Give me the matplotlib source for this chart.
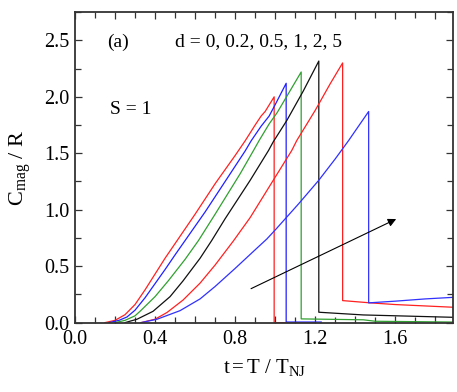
import matplotlib
matplotlib.use('Agg')
import matplotlib.pyplot as plt
from matplotlib.ticker import MultipleLocator, FuncFormatter

plt.rcParams['font.family'] = ['Liberation Serif', 'DejaVu Serif']
plt.rcParams['mathtext.fontset'] = 'stix'

# d = 0 (red)
t_d0 = [0.15, 0.2, 0.25, 0.3, 0.35, 0.4, 0.45, 0.5, 0.55, 0.6, 0.7, 0.8, 0.85, 0.9, 0.93, 0.95, 0.995, 0.995, 1.2]
c_d0 = [0.0, 0.02, 0.07, 0.16, 0.29, 0.43, 0.57, 0.70, 0.83, 0.96, 1.23, 1.48, 1.61, 1.75, 1.83, 1.87, 2.0, 0.0, 0.0]
# d = 0.2 (blue)
t_d02 = [0.17, 0.22, 0.26, 0.3, 0.35, 0.41, 0.45, 0.5, 0.575, 0.65, 0.75, 0.85, 0.88, 0.93, 0.97, 1.0, 1.055, 1.055, 1.23]
c_d02 = [0.0, 0.02, 0.05, 0.11, 0.22, 0.37, 0.47, 0.60, 0.79, 0.98, 1.25, 1.52, 1.61, 1.74, 1.83, 1.93, 2.12, 0.005, 0.005]
# d = 0.5 (green)
t_d05 = [0.2, 0.25, 0.3, 0.325, 0.4, 0.467, 0.55, 0.617, 0.7, 0.825, 0.892, 0.92, 0.97, 1.01, 1.07, 1.13, 1.13, 1.44, 1.5, 1.89]
c_d05 = [0.0, 0.02, 0.06, 0.1, 0.23, 0.372, 0.56, 0.727, 0.96, 1.318, 1.525, 1.613, 1.76, 1.86, 2.04, 2.22, 0.033, 0.025, 0.012, 0.005]
# d = 1 (black)
t_d1 = [0.25, 0.31, 0.39, 0.475, 0.54, 0.625, 0.683, 0.75, 0.875, 0.967, 0.99, 1.058, 1.14, 1.218, 1.218, 1.44, 1.89]
c_d1 = [0.0, 0.03, 0.1, 0.23, 0.37, 0.57, 0.727, 0.92, 1.26, 1.525, 1.6, 1.79, 2.05, 2.317, 0.092, 0.068, 0.047]
# d = 2 (red)
t_d2 = [0.33, 0.4, 0.46, 0.54, 0.625, 0.7, 0.79, 0.875, 1.0, 1.083, 1.108, 1.2, 1.275, 1.337, 1.337, 1.475, 1.6, 1.89]
c_d2 = [0.0, 0.03, 0.09, 0.2, 0.35, 0.51, 0.72, 0.93, 1.288, 1.525, 1.613, 1.88, 2.116, 2.30, 0.195, 0.175, 0.16, 0.136]
# d = 5 (blue)
t_d5 = [0.33, 0.41, 0.525, 0.625, 0.7, 0.8, 0.9, 0.958, 1.0, 1.117, 1.217, 1.3, 1.367, 1.467, 1.467, 1.6, 1.75, 1.89]
c_d5 = [0.0, 0.03, 0.106, 0.21, 0.32, 0.48, 0.645, 0.74, 0.82, 1.052, 1.259, 1.45, 1.613, 1.87, 0.175, 0.19, 0.21, 0.224]

curves = [(t_d0, c_d0, '#ff2020'), (t_d02, c_d02, '#2020ff'), (t_d05, c_d05, '#30a030'),
          (t_d1, c_d1, '#101010'), (t_d2, c_d2, '#ff2020'), (t_d5, c_d5, '#3030ff')]

fig = plt.figure(figsize=(4.57, 3.92), dpi=100)
ax = fig.add_axes([0.164, 0.177, 0.828, 0.792])

for t, c, col in curves:
    ax.plot(t, c, color=col, lw=0.9)

ax.annotate('', xy=(1.617, 0.928), xytext=(0.867, 0.29),
            arrowprops=dict(arrowstyle='-|>', color='black', lw=0.8, mutation_scale=12))

ax.text(0.215, 2.485, '(a)', fontsize=14, ha='center', va='center')
ax.text(0.917, 2.485, 'd = 0, 0.2, 0.5, 1, 2, 5', fontsize=14, ha='center', va='center')
ax.text(0.278, 1.89, 'S = 1', fontsize=14, ha='center', va='center')

ax.set_xlim(0, 1.89)
ax.set_ylim(0, 2.75)
ax.xaxis.set_major_locator(MultipleLocator(0.2))
ax.xaxis.set_minor_locator(MultipleLocator(0.1))
ax.xaxis.set_major_formatter(FuncFormatter(
    lambda v, p: '%.1f' % v if abs(round(v / 0.4) * 0.4 - v) < 1e-6 else ''))
ax.yaxis.set_major_locator(MultipleLocator(0.5))
ax.yaxis.set_minor_locator(MultipleLocator(0.25))
ax.yaxis.set_major_formatter(FuncFormatter(lambda v, p: '%.1f' % v))
ax.tick_params(which='both', direction='in', top=True, right=True, labelsize=14.5, width=0.9, color='#333333')
ax.tick_params(which='major', length=5)
ax.tick_params(which='minor', length=4)
ax.tick_params(axis='x', which='major', pad=5)
ax.tick_params(axis='y', which='major', pad=4)
for s in ax.spines.values():
    s.set_linewidth(1.3)
    s.set_color('#333333')

ax.set_xlabel(r'$\mathregular{t = T\ /\ T_{NJ}}$', fontsize=15, labelpad=6)
ax.set_ylabel(r'$\mathregular{C_{mag}}$ / R', fontsize=16, labelpad=8)

fig.savefig('out.png', dpi=100)
